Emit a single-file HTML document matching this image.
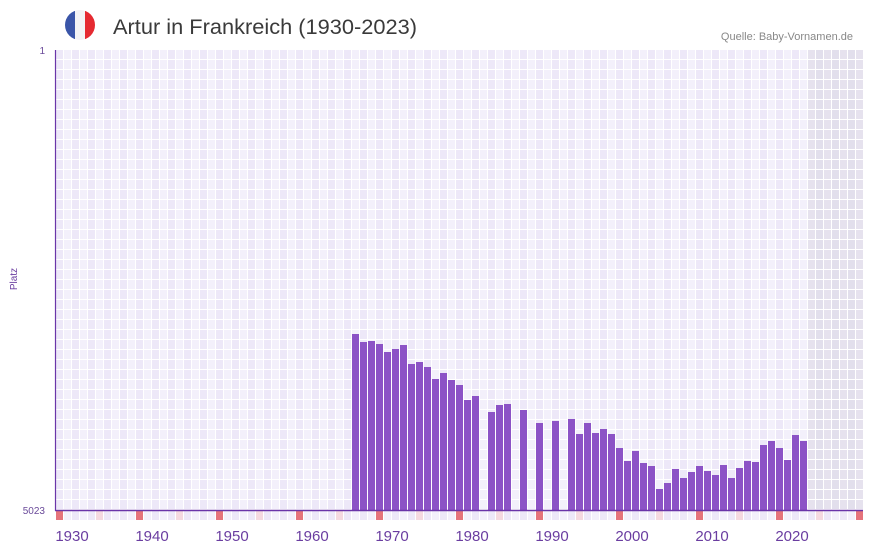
<!DOCTYPE html>
<html><head><meta charset="utf-8"><style>
body{margin:0;background:#fff;width:873px;height:552px;overflow:hidden;font-family:"Liberation Sans",sans-serif}
</style></head><body>
<svg id="s" width="873" height="552" xmlns="http://www.w3.org/2000/svg" style="position:absolute;left:0;top:0">
<defs><clipPath id="c"><circle cx="80" cy="25" r="15"/></clipPath></defs>
<g clip-path="url(#c)"><rect x="65" y="10" width="10" height="30" fill="#3a55a8"/><rect x="75" y="10" width="10" height="30" fill="#f3f3f5"/><rect x="85" y="10" width="10" height="30" fill="#e52a31"/></g>
<text x="113" y="34" font-size="21" fill="#3a3a3a" textLength="304" lengthAdjust="spacingAndGlyphs">Artur in Frankreich (1930-2023)</text>
<text x="853" y="40" font-size="11" fill="#888" text-anchor="end">Quelle: Baby-Vornamen.de</text>
<text x="45" y="54" font-size="10" fill="#6a4a9a" text-anchor="end">1</text>
<text x="45" y="514" font-size="10" fill="#6a4a9a" text-anchor="end">5023</text>
<text transform="translate(17,279) rotate(-90)" font-size="10" fill="#6a3da0" text-anchor="middle">Platz</text>
<g id="g"></g>
<line x1="55.5" y1="50" x2="55.5" y2="511" stroke="#6a35a8" stroke-width="1.2"/>
<line x1="55" y1="510.5" x2="863" y2="510.5" stroke="#6a35a8" stroke-width="1.5"/>
</svg>
<script>
var g=document.getElementById('g'),h='';
for(var i=0;i<101;i++){var x=56+8*i;if(x>=863)break;var yr=1928+i;
 var sh=x>=807;var c=sh?(i%2?'#e2dfec':'#e6e2ee'):(i%2?'#f3f0fb':'#ede8f8');
 for(var r=0;r<46;r++){h+='<rect x="'+x+'" y="'+(50+r*10)+'" width="7" height="9" fill="'+c+'"/>';}
 var m=yr%10==8?'#e5737b':(yr%10==3?'#f5d9e0':(i%2?'#f3f0fb':'#ede8f8'));
 h+='<rect x="'+x+'" y="511" width="7" height="9" fill="'+m+'"/>';
}
var d={1965:334,1966:342,1967:341,1968:344,1969:352,1970:349,1971:345,1972:364,1973:362,1974:367,1975:379,1976:373,1977:380,1978:385,1979:400,1980:396,1982:412,1983:405,1984:404,1986:410,1988:423,1990:421,1992:419,1993:434,1994:423,1995:433,1996:429,1997:434,1998:448,1999:461,2000:451,2001:463,2002:466,2003:489,2004:483,2005:469,2006:478,2007:472,2008:466,2009:471,2010:475,2011:465,2012:478,2013:468,2014:461,2015:462,2016:445,2017:441,2018:448,2019:460,2020:435,2021:441};
for(var y in d){var x=56+(y-1928)*8;h+='<rect x="'+x+'" y="'+d[y]+'" width="7" height="'+(510-d[y])+'" fill="#8c53c6"/>';}
for(var y=1930;y<=2020;y+=10){var x=56+(y-1928)*8;h+='<text x="'+x+'" y="541" font-size="15" fill="#6a3da0" text-anchor="middle">'+y+'</text>';}
g.innerHTML=h;
</script>
</body></html>
